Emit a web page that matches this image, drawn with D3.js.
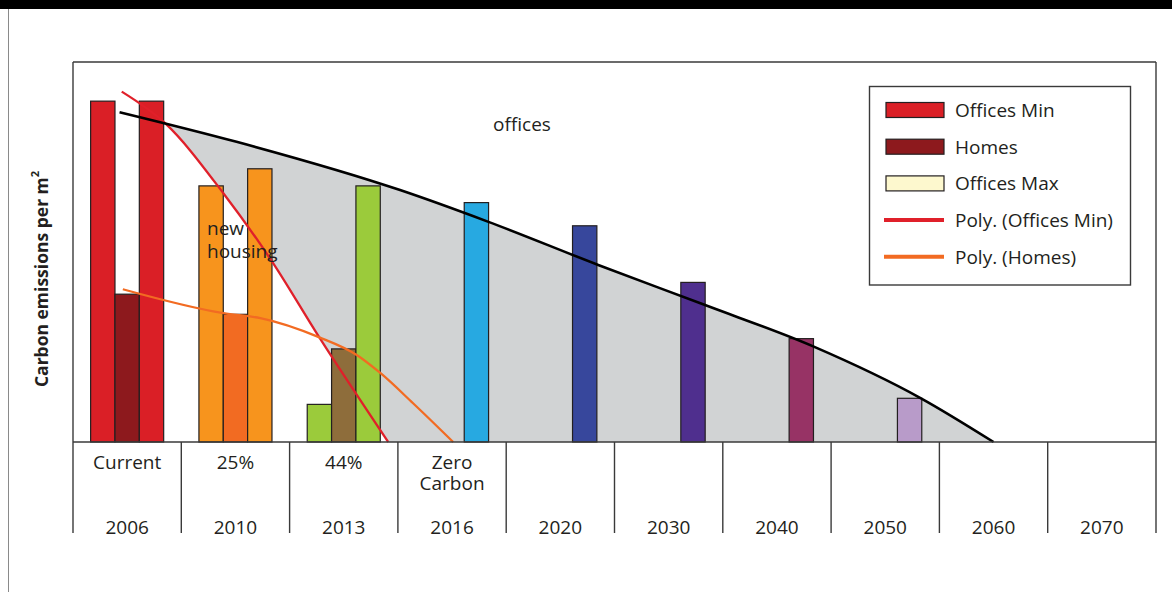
<!DOCTYPE html>
<html>
<head>
<meta charset="utf-8">
<script src="https://cdn.jsdelivr.net/npm/d3@7/dist/d3.min.js"></script>
<style>
  html, body { margin: 0; padding: 0; background: #fff; }
  svg { display: block; font-family: "Open Sans", "Noto Sans", sans-serif; }
</style>
</head>
<body>
<svg id="chart" width="1172" height="592"></svg>
<script>
// Category years along the bottom, with the stage label shown above each year
const categories = ["2006", "2010", "2013", "2016", "2020", "2030", "2040", "2050", "2060", "2070"];
const stageLabels = [["Current"], ["25%"], ["44%"], ["Zero", "Carbon"], [], [], [], [], [], []];

// Carbon emissions per m² (relative units) for each series
const officesMin = [89.7, 67.4, 9.9, null, null, null, null, null, null, null];
const homes      = [38.9, 33.6, 24.5, null, null, null, null, null, null, null];
const officesMax = [89.7, 71.9, 67.4, 63.0, 56.9, 42.0, 27.2, 11.5, null, null];

// Individual bar colours per category
const officesMinColours = ["#da1f26", "#f7941d", "#9bcb3b", null, null, null, null, null, null, null];
const homesColours      = ["#8d191d", "#f26b22", "#8e6d3b", null, null, null, null, null, null, null];
const officesMaxColours = ["#da1f26", "#f7941d", "#9bcb3b", "#27a9e1", "#37479c", "#4f2f8e", "#973365", "#b89bc9", null, null];

// Trend curves, x in category units (0 = left edge of 2006), y in emission units
const polyOfficesMinX = [0.45, 0.85, 1.39, 1.84, 2.27, 2.91];
const polyOfficesMinY = [92.2, 83.9, 65.4, 47.4, 27.7, 0];
const polyHomesX = [0.46, 1.39, 1.73, 2.27, 2.62, 2.84, 3.14, 3.51];
const polyHomesY = [40.2, 33.9, 32.6, 27.6, 22.9, 18.1, 10.2, 0];
const officesTrendX = [0.43, 1.51, 3.02, 3.83, 4.85, 5.83, 6.84, 7.83, 8.50];
const officesTrendY = [86.8, 79.0, 66.3, 58.0, 46.6, 36.1, 25.1, 11.5, 0];

// Legend entries
const legendLabels = ["Offices Min", "Homes", "Offices Max", "Poly. (Offices Min)", "Poly. (Homes)"];
const legendColours = ["#da1f26", "#8d191d", "#fdf8ce", "#e0202a", "#f26b22"];
const legendKinds = ["box", "box", "box", "line", "line"];

const svg = d3.select("#chart");
const W = 1172, H = 592;
const plotLeft = 73, plotRight = 1156, plotTop = 62, base = 442, axisBottom = 533;
const textColour = "#231f20";
const fontSize = 19;

// Page frame
svg.append("rect").attr("x", 0).attr("y", 0).attr("width", W).attr("height", 9).attr("fill", "#000");
svg.append("line").attr("x1", 8.5).attr("x2", 8.5).attr("y1", 9).attr("y2", H)
  .attr("stroke", "#8a8a8a").attr("stroke-width", 1);

// Scales
const x0 = d3.scaleBand().domain(categories).range([plotLeft, plotRight]).paddingInner(0).paddingOuter(0);
const slots = ["min", "homes", "max"];
const x1 = d3.scaleBand().domain(slots).range([0, x0.bandwidth()]).paddingInner(0).paddingOuter(0.724);
const xu = d3.scaleLinear().domain([0, categories.length]).range([plotLeft, plotRight]);
const y = d3.scaleLinear().domain([0, 100]).range([base, plotTop]);

// Shaded office reduction area: under the offices trend, right of the office-min trend
const lineGen = d3.line().x(d => xu(d[0])).y(d => y(d[1])).curve(d3.curveMonotoneX);
const minPts = polyOfficesMinX.map((u, i) => [u, polyOfficesMinY[i]]);
const homesPts = polyHomesX.map((u, i) => [u, polyHomesY[i]]);
const officePts = officesTrendX.map((u, i) => [u, officesTrendY[i]]);

const defs = svg.append("defs");
const minPath = lineGen(minPts);
defs.append("clipPath").attr("id", "rightOfMin")
  .append("path")
  .attr("d", minPath + `L${plotRight},${base}L${plotRight},0L${xu(minPts[0][0])},0Z`);

const areaGen = d3.area().x(d => xu(d[0])).y0(y(0)).y1(d => y(d[1])).curve(d3.curveMonotoneX);
svg.append("path").attr("d", areaGen(officePts)).attr("fill", "#d1d3d4")
  .attr("clip-path", "url(#rightOfMin)");

// Bars
const barRows = [];
categories.forEach((c, i) => {
  [[officesMin, officesMinColours, "min"], [homes, homesColours, "homes"], [officesMax, officesMaxColours, "max"]]
    .forEach(([vals, cols, slot]) => {
      if (vals[i] != null) barRows.push({ cat: c, slot, value: vals[i], colour: cols[i] });
    });
});
svg.append("g").selectAll("rect").data(barRows).join("rect")
  .attr("x", d => x0(d.cat) + x1(d.slot))
  .attr("y", d => y(d.value))
  .attr("width", x1.bandwidth())
  .attr("height", d => y(0) - y(d.value))
  .attr("fill", d => d.colour)
  .attr("stroke", "#231f20")
  .attr("stroke-width", 1.2);

// Trend lines
svg.append("path").attr("d", minPath).attr("fill", "none").attr("stroke", "#e0202a").attr("stroke-width", 2.3);
svg.append("path").attr("d", lineGen(homesPts)).attr("fill", "none").attr("stroke", "#f26b22").attr("stroke-width", 2.3);
svg.append("path").attr("d", lineGen(officePts)).attr("fill", "none").attr("stroke", "#000").attr("stroke-width", 2.6);

// Annotations
svg.append("text").attr("x", 522).attr("y", 124).attr("text-anchor", "middle")
  .attr("dominant-baseline", "central").attr("font-size", fontSize).attr("fill", textColour).text("offices");
const nh = svg.append("text").attr("x", 207).attr("font-size", fontSize).attr("fill", textColour);
nh.append("tspan").attr("x", 207).attr("y", 228).attr("dominant-baseline", "central").text("new");
nh.append("tspan").attr("x", 207).attr("y", 251).attr("dominant-baseline", "central").text("housing");

// Plot frame and category table
const frame = svg.append("g").attr("stroke", "#3a3a3a").attr("stroke-width", 1.4).attr("fill", "none");
frame.append("line").attr("x1", plotLeft).attr("x2", plotRight).attr("y1", plotTop).attr("y2", plotTop);
frame.append("line").attr("x1", plotLeft).attr("x2", plotRight).attr("y1", base).attr("y2", base);
frame.append("line").attr("x1", plotLeft).attr("x2", plotLeft).attr("y1", plotTop).attr("y2", axisBottom);
frame.append("line").attr("x1", plotRight).attr("x2", plotRight).attr("y1", plotTop).attr("y2", axisBottom);
frame.selectAll("line.div").data(categories.slice(1)).join("line").attr("class", "div")
  .attr("x1", d => x0(d)).attr("x2", d => x0(d)).attr("y1", base).attr("y2", axisBottom);

// Stage labels and year labels
const labelG = svg.append("g").attr("font-size", fontSize).attr("fill", textColour).attr("text-anchor", "middle");
categories.forEach((c, i) => {
  const cx = x0(c) + x0.bandwidth() / 2;
  if (stageLabels[i].length) {
    const t = labelG.append("text");
    stageLabels[i].forEach((s, k) => {
      t.append("tspan").attr("x", cx).attr("y", 462 + k * 21).attr("dominant-baseline", "central").text(s);
    });
  }
  labelG.append("text").attr("x", cx).attr("y", 527).attr("dominant-baseline", "central").text(c);
});

// Y-axis title
const yt = svg.append("text").attr("transform", "translate(41,279) rotate(-90)")
  .attr("text-anchor", "middle").attr("dominant-baseline", "central")
  .attr("font-size", 17.5).attr("font-weight", "bold").attr("fill", textColour);
yt.append("tspan").text("Carbon emissions per m");
yt.append("tspan").attr("font-size", 11).attr("dy", -7).text("2");

// Legend
const lg = svg.append("g");
lg.append("rect").attr("x", 869.5).attr("y", 86.5).attr("width", 261).attr("height", 198.5)
  .attr("fill", "#fff").attr("stroke", "#3a3a3a").attr("stroke-width", 1.4);
legendLabels.forEach((lab, i) => {
  const cy = 110 + i * 36.7;
  if (legendKinds[i] === "box") {
    lg.append("rect").attr("x", 886).attr("y", cy - 7.5).attr("width", 58).attr("height", 15)
      .attr("fill", legendColours[i]).attr("stroke", "#231f20").attr("stroke-width", 1.2);
  } else {
    lg.append("line").attr("x1", 884).attr("x2", 944).attr("y1", cy).attr("y2", cy)
      .attr("stroke", legendColours[i]).attr("stroke-width", 4);
  }
  lg.append("text").attr("x", 955).attr("y", cy).attr("dominant-baseline", "central")
    .attr("font-size", fontSize).attr("fill", textColour).text(lab);
});
</script>
</body>
</html>
